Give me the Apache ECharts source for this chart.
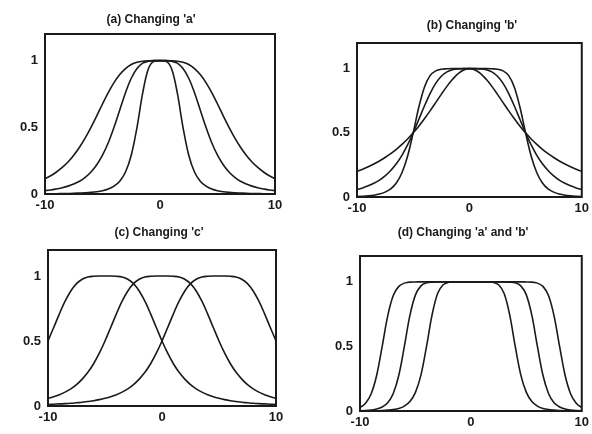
<!DOCTYPE html>
<html>
<head>
<meta charset="utf-8">
<style>html,body{margin:0;padding:0;background:#fff}#c{width:592px;height:434px}</style>
<script src="https://cdn.jsdelivr.net/npm/echarts@6/dist/echarts.min.js"></script>
</head>
<body>
<div id="c"></div>
<script>
// x samples (shared by all panels)
const xs = [-10,-9.5,-9,-8.5,-8,-7.5,-7,-6.5,-6,-5.5,-5,-4.5,-4,-3.5,-3,-2.5,-2,-1.5,-1,-0.5,0,0.5,1,1.5,2,2.5,3,3.5,4,4.5,5,5.5,6,6.5,7,7.5,8,8.5,9,9.5,10];

const titles = ["(a) Changing 'a'", "(b) Changing 'b'", "(c) Changing 'c'", "(d) Changing 'a' and 'b'"];
const xTicks = [-10, 0, 10];
const yTicks = [0, 0.5, 1];

// (a) changing a
const aNarrow = [0.002,0.002,0.002,0.003,0.004,0.005,0.007,0.009,0.012,0.017,0.025,0.038,0.059,0.096,0.165,0.291,0.5,0.760,0.941,0.996,1,0.996,0.941,0.760,0.5,0.291,0.165,0.096,0.059,0.038,0.025,0.017,0.012,0.009,0.007,0.005,0.004,0.003,0.002,0.002,0.002];
const aMid = [0.025,0.030,0.038,0.047,0.059,0.075,0.096,0.125,0.165,0.219,0.291,0.384,0.5,0.630,0.760,0.868,0.941,0.981,0.996,1.000,1,1.000,0.996,0.981,0.941,0.868,0.760,0.630,0.5,0.384,0.291,0.219,0.165,0.125,0.096,0.075,0.059,0.047,0.038,0.030,0.025];
const aWide = [0.115,0.137,0.165,0.199,0.240,0.291,0.351,0.421,0.5,0.586,0.675,0.760,0.835,0.896,0.941,0.971,0.988,0.996,0.999,1.000,1,1.000,0.999,0.996,0.988,0.971,0.941,0.896,0.835,0.760,0.675,0.586,0.5,0.421,0.351,0.291,0.240,0.199,0.165,0.137,0.115];

// (b) changing b
const bLow = [0.2,0.217,0.236,0.257,0.281,0.308,0.338,0.372,0.410,0.452,0.5,0.552,0.610,0.671,0.735,0.800,0.862,0.917,0.962,0.990,1,0.990,0.962,0.917,0.862,0.800,0.735,0.671,0.610,0.552,0.5,0.452,0.410,0.372,0.338,0.308,0.281,0.257,0.236,0.217,0.2];
const bMid = [0.059,0.071,0.087,0.107,0.132,0.165,0.207,0.259,0.325,0.406,0.5,0.604,0.709,0.806,0.885,0.941,0.975,0.992,0.998,1.000,1,1.000,0.998,0.992,0.975,0.941,0.885,0.806,0.709,0.604,0.5,0.406,0.325,0.259,0.207,0.165,0.132,0.107,0.087,0.071,0.059];
const bHigh = [0.004,0.006,0.009,0.014,0.023,0.038,0.063,0.109,0.189,0.318,0.5,0.699,0.856,0.946,0.983,0.996,0.999,1.000,1.000,1.000,1,1.000,1.000,1.000,0.999,0.996,0.983,0.946,0.856,0.699,0.5,0.318,0.189,0.109,0.063,0.038,0.023,0.014,0.009,0.006,0.004];

// (c) changing c
const cLeft = [0.5,0.604,0.709,0.806,0.885,0.941,0.975,0.992,0.998,1.000,1,1.000,0.998,0.992,0.975,0.941,0.885,0.806,0.709,0.604,0.5,0.406,0.325,0.259,0.207,0.165,0.132,0.107,0.087,0.071,0.059,0.049,0.041,0.035,0.029,0.025,0.021,0.018,0.016,0.014,0.012];
const cMid = [0.059,0.071,0.087,0.107,0.132,0.165,0.207,0.259,0.325,0.406,0.5,0.604,0.709,0.806,0.885,0.941,0.975,0.992,0.998,1.000,1,1.000,0.998,0.992,0.975,0.941,0.885,0.806,0.709,0.604,0.5,0.406,0.325,0.259,0.207,0.165,0.132,0.107,0.087,0.071,0.059];
const cRight = [0.012,0.014,0.016,0.018,0.021,0.025,0.029,0.035,0.041,0.049,0.059,0.071,0.087,0.107,0.132,0.165,0.207,0.259,0.325,0.406,0.5,0.604,0.709,0.806,0.885,0.941,0.975,0.992,0.998,1.000,1,1.000,0.998,0.992,0.975,0.941,0.885,0.806,0.709,0.604,0.5];

// (d) changing a and b
const dNarrow = [0.0007,0.001,0.0015,0.0024,0.0039,0.0065,0.011,0.020,0.038,0.073,0.144,0.280,0.5,0.744,0.909,0.977,0.996,1.000,1.000,1,1,1,1.000,1.000,0.996,0.977,0.909,0.744,0.5,0.280,0.144,0.073,0.038,0.020,0.011,0.0065,0.0039,0.0024,0.0015,0.001,0.0007];
const dMid = [0.0022,0.004,0.0077,0.015,0.031,0.064,0.136,0.277,0.5,0.740,0.899,0.969,0.992,0.998,1.000,1.000,1,1,1,1,1,1,1,1,1,1.000,1.000,0.998,0.992,0.969,0.899,0.740,0.5,0.277,0.136,0.064,0.031,0.015,0.0077,0.004,0.0022];
const dWide = [0.027,0.060,0.132,0.275,0.5,0.737,0.894,0.965,0.990,0.998,0.999,1.000,1,1,1,1,1,1,1,1,1,1,1,1,1,1,1,1,1,1.000,0.999,0.998,0.990,0.965,0.894,0.737,0.5,0.275,0.132,0.060,0.027];

const panels = [
  {title: titles[0], curves: [aNarrow, aMid, aWide]},
  {title: titles[1], curves: [bLow, bMid, bHigh]},
  {title: titles[2], curves: [cLeft, cMid, cRight]},
  {title: titles[3], curves: [dNarrow, dMid, dWide]}
];

const gridPos = [
  {left: 45, top: 34, width: 230, height: 160},
  {left: 357, top: 43, width: 228, height: 154},
  {left: 48, top: 250, width: 228, height: 156},
  {left: 360, top: 256, width: 223, height: 155}
];
const titlePos = [
  {x: 146, y: 9}, {x: 467, y: 15}, {x: 154, y: 222}, {x: 458, y: 222}
];

const FONT = "'Liberation Sans', Arial, sans-serif";
const ink = '#1a1a1a';

const option = {
  backgroundColor: '#ffffff',
  animation: false,
  title: panels.map((p, i) => ({
    text: p.title,
    left: titlePos[i].x, top: titlePos[i].y,
    textAlign: 'center',
    textStyle: {fontFamily: FONT, fontSize: 12, fontWeight: 'bold', color: ink}
  })),
  grid: gridPos.map(g => Object.assign({show: true, borderColor: ink, borderWidth: 2, backgroundColor: 'transparent'}, g)),
  xAxis: panels.map((p, i) => ({
    type: 'value', gridIndex: i, min: xTicks[0], max: xTicks[2], interval: 10,
    axisLine: {show: false}, axisTick: {show: false}, splitLine: {show: false},
    axisLabel: {fontFamily: FONT, fontSize: 13, fontWeight: 'bold', color: ink, margin: 5}
  })),
  yAxis: panels.map((p, i) => ({
    type: 'value', gridIndex: i, min: 0, max: 1.2, interval: 0.5,
    axisLine: {show: false}, axisTick: {show: false}, splitLine: {show: false},
    axisLabel: {fontFamily: FONT, fontSize: 13, fontWeight: 'bold', color: ink, margin: 7,
      showMaxLabel: false,
      formatter: v => (yTicks.indexOf(v) >= 0 ? String(v) : '')}
  })),
  series: []
};

panels.forEach((p, i) => {
  p.curves.forEach(vals => {
    option.series.push({
      type: 'line', xAxisIndex: i, yAxisIndex: i,
      data: xs.map((x, k) => [x, vals[k]]),
      showSymbol: false, smooth: 0.35,
      lineStyle: {color: ink, width: 1.6},
      silent: true
    });
  });
});

const chart = echarts.init(document.getElementById('c'), null, {renderer: 'canvas'});
chart.setOption(option);
</script>
</body>
</html>
